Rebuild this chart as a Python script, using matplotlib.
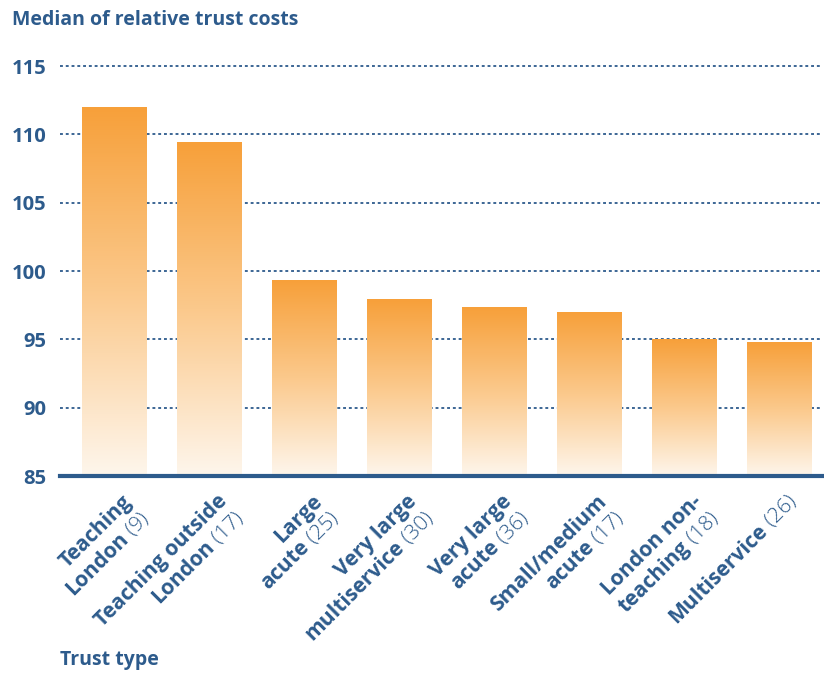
import numpy as np
import matplotlib
matplotlib.use("Agg")
import matplotlib.pyplot as plt
from matplotlib.colors import LinearSegmentedColormap
from matplotlib.transforms import offset_copy

plt.rcParams["font.family"] = ["Open Sans", "DejaVu Sans"]

# trust types: bold lines of each label, with the number of trusts after
type_lines = [
    ["Teaching", "London"],
    ["Teaching outside", "London"],
    ["Large", "acute"],
    ["Very large", "multiservice"],
    ["Very large", "acute"],
    ["Small/medium", "acute"],
    ["London non-", "teaching"],
    ["Multiservice"],
]
trust_counts = [9, 17, 25, 30, 36, 17, 18, 26]
median_cost = [112.0, 109.4, 99.3, 97.9, 97.3, 97.0, 95.0, 94.8]
y_ticks = [85, 90, 95, 100, 105, 110, 115]

BLUE = "#2d5b8c"
base = y_ticks[0]
grad_cmap = LinearSegmentedColormap.from_list("fade", ["#fef6ec", "#fbc98c", "#f7a03a"])

W, H, DPI = 824, 673, 100
fig = plt.figure(figsize=(W / DPI, H / DPI), dpi=DPI)
ax = fig.add_axes([60 / W, 1 - 476 / H, 762 / W, 410 / H])

x = np.arange(len(median_cost))
bars = ax.bar(x, np.array(median_cost) - base, bottom=base, width=0.684,
              facecolor="none", edgecolor="none", zorder=2)
grad = np.linspace(0, 1, 256).reshape(-1, 1)
for b in bars:
    x0, y0 = b.get_x(), b.get_y()
    ax.imshow(grad, extent=[x0, x0 + b.get_width(), y0, y0 + b.get_height()],
              origin="lower", cmap=grad_cmap, aspect="auto", zorder=2,
              interpolation="bilinear")

for yv in y_ticks[1:]:
    ax.axhline(yv, color=BLUE, lw=1.3, ls=(0, (1.6, 1.6)), zorder=1, clip_on=False)
ax.axhline(base, color=BLUE, lw=3, zorder=3, clip_on=False)

ax.set_xlim(-0.574, 7.45)
ax.set_ylim(base, y_ticks[-1])
ax.set_yticks(y_ticks)
ax.set_xticks([])
ax.tick_params(axis="y", length=0, pad=10, labelsize=14.5, labelcolor=BLUE)
for lbl in ax.get_yticklabels():
    lbl.set_fontweight("bold")
for s in ax.spines.values():
    s.set_visible(False)

# rotated two-weight category labels
fig.canvas.draw()
renderer = fig.canvas.get_renderer()
fs = 15.2
u = np.array([np.cos(np.pi / 4), np.sin(np.pi / 4)])
n = np.array([np.sin(np.pi / 4), -np.cos(np.pi / 4)])
start = np.array([13.0, -19.0])
spacing = 17.3
for i, lines in enumerate(type_lines):
    for k, line in enumerate(lines):
        end = start + k * spacing * n
        kw = dict(rotation=45, rotation_mode="anchor", ha="right", va="baseline",
                  fontsize=fs, color=BLUE)
        shift = 0.0
        if k == len(lines) - 1:
            reg = f" ({trust_counts[i]})"
            tr = offset_copy(ax.transData, fig=fig, x=end[0], y=end[1], units="points")
            ax.text(i, base, reg, transform=tr, fontweight="light", **kw)
            tmp = fig.text(0, 0, reg, fontsize=fs, fontweight="light")
            shift = tmp.get_window_extent(renderer).width * 72 / DPI
            tmp.remove()
        p = end - shift * u
        tr = offset_copy(ax.transData, fig=fig, x=p[0], y=p[1], units="points")
        ax.text(i, base, line, transform=tr, fontweight="bold", **kw)

fig.text(12 / W, 1 - 20 / H, "Median of relative trust costs", ha="left", va="center",
         fontsize=14, fontweight="bold", color=BLUE)
fig.text(60 / W, 1 - 660 / H, "Trust type", ha="left", va="center",
         fontsize=14, fontweight="bold", color=BLUE)

fig.savefig("out.png", dpi=DPI)
